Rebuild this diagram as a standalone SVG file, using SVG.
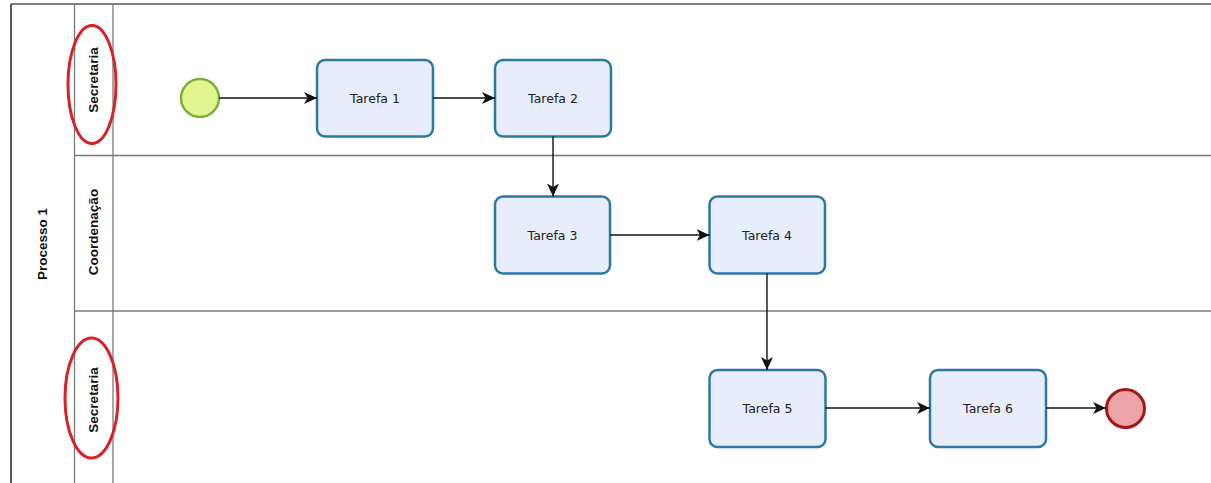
<svg xmlns="http://www.w3.org/2000/svg" width="1211" height="483" viewBox="0 0 1211 483">
<style>
.task rect{fill:#e8edfb;stroke:#2a78a5;stroke-width:2.5}
.task text{font-family:"DejaVu Sans",sans-serif;font-size:12.5px;fill:#222;text-anchor:middle;dominant-baseline:central}
.lbl{font-family:"Liberation Sans",Arial,sans-serif;font-size:13.5px;font-weight:bold;fill:#111;text-anchor:middle;dominant-baseline:central}
.sep{stroke:#7a7a7a;stroke-width:1.3;fill:none}
.conn line{stroke:#111;stroke-width:1.4;marker-end:url(#arr)}
.mark{fill:none;stroke:#d8222a;stroke-width:3}
</style>
<defs>
<marker id="arr" viewBox="0 0 13 12" refX="13" refY="6" markerWidth="13" markerHeight="12" markerUnits="userSpaceOnUse" orient="auto">
<path d="M0,0 L13,6 L0,12 L3.5,6 Z" fill="#111"/>
</marker>
</defs>
<rect width="1211" height="483" fill="#fff"/>
<g id="pool">
<line x1="11" y1="4" x2="1211" y2="4" stroke="#555" stroke-width="1.3"/>
<line x1="11" y1="4" x2="11" y2="483" stroke="#222" stroke-width="1.5"/>
<line x1="74.5" y1="4" x2="74.5" y2="483" class="sep"/>
<line x1="113" y1="4" x2="113" y2="483" class="sep"/>
<line x1="74.5" y1="155.5" x2="1211" y2="155.5" class="sep"/>
<line x1="74.5" y1="311" x2="1211" y2="311" class="sep"/>
<text class="lbl" transform="translate(42 244) rotate(-90)">Processo 1</text>
</g>
<g id="lane1"><text class="lbl" transform="translate(93 80) rotate(-90)">Secretaria</text></g>
<g id="lane2"><text class="lbl" transform="translate(93 232) rotate(-90)">Coordenação</text></g>
<g id="lane3"><text class="lbl" transform="translate(93 400) rotate(-90)">Secretaria</text></g>
<g id="mark1"><ellipse class="mark" cx="92" cy="84.5" rx="24" ry="59"/></g>
<g id="mark2"><ellipse class="mark" cx="91.5" cy="398" rx="26.5" ry="60"/></g>
<g id="start"><circle cx="200" cy="98" r="19" fill="#e2f590" stroke="#78b23a" stroke-width="2.5"/></g>
<g id="end"><circle cx="1125.5" cy="408.5" r="19" fill="#eba3a8" stroke="#a31717" stroke-width="3"/></g>
<g id="t1" class="task"><rect x="317" y="60" width="116" height="76.5" rx="8"/><text x="375" y="98">Tarefa 1</text></g>
<g id="t2" class="task"><rect x="495" y="60" width="116" height="76.5" rx="8"/><text x="553" y="98">Tarefa 2</text></g>
<g id="t3" class="task"><rect x="495" y="196.5" width="115" height="77" rx="8"/><text x="552.5" y="235">Tarefa 3</text></g>
<g id="t4" class="task"><rect x="709.5" y="196.5" width="115.5" height="77" rx="8"/><text x="767" y="235">Tarefa 4</text></g>
<g id="t5" class="task"><rect x="709.5" y="370" width="116" height="77" rx="8"/><text x="767.5" y="408">Tarefa 5</text></g>
<g id="t6" class="task"><rect x="930" y="370" width="116" height="77" rx="8"/><text x="988" y="408">Tarefa 6</text></g>
<g id="connectors" class="conn">
<line x1="219" y1="98" x2="317" y2="98"/>
<line x1="433" y1="98" x2="495" y2="98"/>
<line x1="553" y1="136.5" x2="553" y2="196.5"/>
<line x1="610" y1="235" x2="709.5" y2="235"/>
<line x1="767" y1="273.5" x2="767" y2="370"/>
<line x1="825.5" y1="408" x2="930" y2="408"/>
<line x1="1046" y1="408" x2="1106" y2="408"/>
</g>
</svg>
